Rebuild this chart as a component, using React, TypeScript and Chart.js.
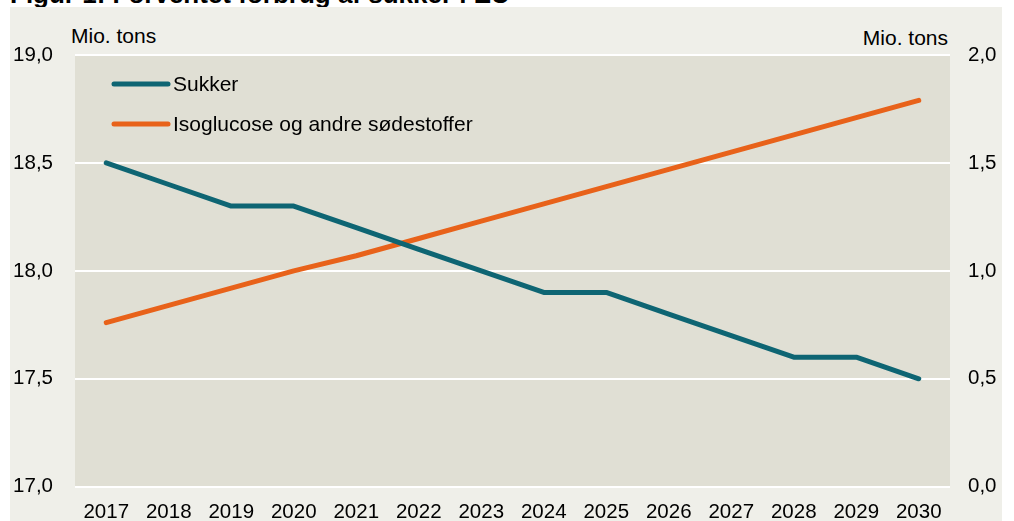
import React, { useEffect, useRef } from "react";
import { Chart, registerables } from "chart.js";

Chart.register(...registerables);

const years = ["2017","2018","2019","2020","2021","2022","2023","2024","2025","2026","2027","2028","2029","2030"];
const sukker = [18.5, 18.4, 18.3, 18.3, 18.2, 18.1, 18.0, 17.9, 17.9, 17.8, 17.7, 17.6, 17.6, 17.5];
const isoglucose = [0.76, 0.84, 0.92, 1.0, 1.07, 1.15, 1.23, 1.31, 1.39, 1.47, 1.55, 1.63, 1.71, 1.79];
const seriesNames = ["Sukker", "Isoglucose og andre sødestoffer"];
const seriesColors = ["#0e6573", "#e8621a"];
const titleText = "Figur 1: Forventet forbrug af sukker i EU";
const unitText = "Mio. tons";

const FONT = "'Liberation Sans', Arial, sans-serif";
const fmt = (v: number) => Number(v).toFixed(1).replace(".", ",");

const plotBg = {
  id: "plotBg",
  beforeDraw(chart: any) {
    const { ctx, chartArea } = chart;
    ctx.save();
    ctx.fillStyle = "#e0dfd4";
    ctx.fillRect(chartArea.left, chartArea.top, chartArea.right - chartArea.left, chartArea.bottom - chartArea.top);
    ctx.restore();
  },
};

const innerLegend = {
  id: "innerLegend",
  afterDatasetsDraw(chart: any) {
    const { ctx, chartArea } = chart;
    ctx.save();
    chart.data.datasets.forEach((ds: any, i: number) => {
      const y = chartArea.top + 29 + i * 40;
      const x0 = chartArea.left + 39;
      ctx.strokeStyle = ds.borderColor;
      ctx.lineWidth = 5;
      ctx.lineCap = "round";
      ctx.beginPath();
      ctx.moveTo(x0, y);
      ctx.lineTo(x0 + 54, y);
      ctx.stroke();
      ctx.fillStyle = "#000";
      ctx.font = `21px ${FONT}`;
      ctx.textBaseline = "middle";
      ctx.textAlign = "left";
      ctx.fillText(ds.label, x0 + 59, y + 1);
    });
    ctx.restore();
  },
};

export default function App() {
  const ref = useRef<HTMLCanvasElement>(null);
  useEffect(() => {
    if (!ref.current) return;
    const chart = new Chart(ref.current, {
      type: "line",
      data: {
        labels: years,
        datasets: [
          {
            label: seriesNames[0],
            data: sukker,
            borderColor: seriesColors[0],
            backgroundColor: seriesColors[0],
            borderWidth: 5,
            pointRadius: 0,
            borderCapStyle: "round",
            borderJoinStyle: "round",
            tension: 0,
            yAxisID: "y",
          },
          {
            label: seriesNames[1],
            data: isoglucose,
            borderColor: seriesColors[1],
            backgroundColor: seriesColors[1],
            borderWidth: 5,
            pointRadius: 0,
            borderCapStyle: "round",
            borderJoinStyle: "round",
            tension: 0,
            yAxisID: "y2",
          },
        ],
      },
      options: {
        responsive: false,
        animation: false,
        devicePixelRatio: 1,
        layout: { padding: { left: 0, right: 0, top: 55, bottom: 0 } },
        plugins: { legend: { display: false }, tooltip: { enabled: false } },
        scales: {
          x: {
            offset: true,
            grid: { display: false },
            border: { display: false },
            ticks: { color: "#000", font: { family: FONT, size: 20.5 }, padding: 5, maxRotation: 0, autoSkip: false },
            afterFit: (s: any) => { s.height = 34; },
          },
          y: {
            position: "left",
            min: 17,
            max: 19,
            grid: { color: "#ffffff", lineWidth: 2, drawTicks: false },
            border: { display: false },
            ticks: { stepSize: 0.5, color: "#000", font: { family: FONT, size: 20.5 }, padding: 22, callback: (v: any) => fmt(v) },
            afterFit: (s: any) => { s.width = 75; },
          },
          y2: {
            position: "right",
            min: 0,
            max: 2,
            grid: { display: false, drawTicks: false },
            border: { display: false },
            ticks: { stepSize: 0.5, color: "#000", font: { family: FONT, size: 20.5 }, padding: 18, callback: (v: any) => fmt(v) },
            afterFit: (s: any) => { s.width = 64; },
          },
        },
      } as any,
      plugins: [plotBg, innerLegend],
    });
    return () => chart.destroy();
  }, []);

  return (
    <div style={{ position: "absolute", left: 0, top: 0, width: 1014, height: 521, overflow: "hidden", background: "#ffffff", fontFamily: FONT }}>
      <div style={{ position: "absolute", left: 10, top: -21, fontSize: 26, fontWeight: "bold", lineHeight: "30px", whiteSpace: "nowrap", color: "#000" }}>{titleText}</div>
      <div style={{ position: "absolute", left: 10, top: 7, width: 992, height: 514, background: "#efefe9" }} />
      <div style={{ position: "absolute", left: 71, top: 24, fontSize: 21, lineHeight: "24px", whiteSpace: "nowrap", color: "#000" }}>{unitText}</div>
      <div style={{ position: "absolute", right: 66, top: 26, fontSize: 21, lineHeight: "24px", whiteSpace: "nowrap", color: "#000" }}>{unitText}</div>
      <canvas ref={ref} width={1014} height={521} style={{ position: "absolute", left: 0, top: 0, width: 1014, height: 521 }} />
    </div>
  );
}
